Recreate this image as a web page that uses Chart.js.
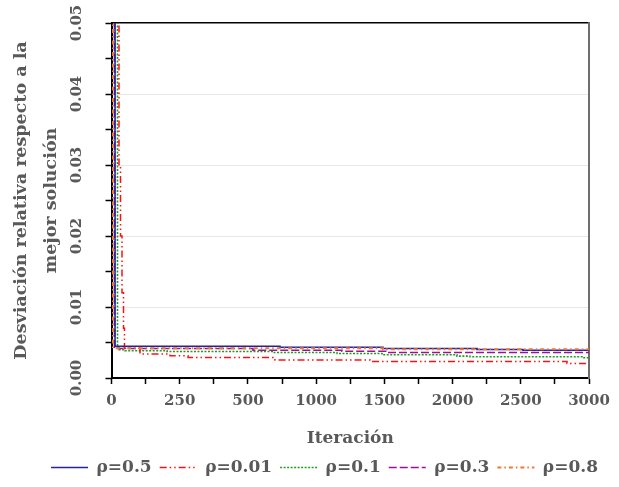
<!DOCTYPE html>
<html><head><meta charset="utf-8">
<script src="https://cdn.jsdelivr.net/npm/chart.js@4.4.1/dist/chart.umd.min.js"></script>
<style>html,body{margin:0;padding:0;background:#fff}#wrap{width:619px;height:487px}</style>
</head><body><div id="wrap"><canvas id="c" width="619" height="487"></canvas></div>
<script>
const seriesNames = ['ρ=0.5', 'ρ=0.01', 'ρ=0.1', 'ρ=0.3', 'ρ=0.8'];
const xTickLabels = ['0', '250', '500', '1000', '1500', '2000', '2500', '3000'];
const yTickLabels = ['0.00', '0.01', '0.02', '0.03', '0.04', '0.05'];

const rho05X = [0, 26, 1235, 1990, 2679, 3016, 3500];
const rho05Y = [0.07, 0.00447, 0.00433, 0.00415, 0.00401, 0.00391, 0.00391];
const rho001X = [0, 55, 66, 77, 88, 95, 209, 429, 561, 1198, 1895, 3339, 3500];
const rho001Y = [0.07, 0.03, 0.02, 0.012, 0.007, 0.00419, 0.00338, 0.00313, 0.00289, 0.00254, 0.00233, 0.00205, 0.00205];
const rho01X = [0, 44, 55, 99, 407, 1184, 1653, 1983, 2532, 2627, 3456, 3500];
const rho01Y = [0.07, 0.00429, 0.00397, 0.00383, 0.00373, 0.00359, 0.00345, 0.00327, 0.00308, 0.00299, 0.00285, 0.00285];
const rho03X = [0, 22, 40, 1037, 1689, 2011, 3500];
const rho03Y = [0.07, 0.00422, 0.00415, 0.00391, 0.00376, 0.00359, 0.00359];
const rho08X = [0, 11, 1990, 3500];
const rho08Y = [0.07, 0.00419, 0.00405, 0.00405];

const pts = (xs, ys) => xs.map((x, i) => ({x: x, y: ys[i]}));
const TXT = '#595959';
const FONT = 'DejaVu Serif';

const styles = [
  {c: '#23239e', d: [], w: 1.6, o: 1},
  {c: '#ff1010', d: [7, 3, 1.5, 3, 1.5, 3], w: 1.5, o: 3},
  {c: '#1e9e1e', d: [2, 1.5], w: 1.6, o: 4},
  {c: '#9a129a', d: [8, 3], w: 1.6, o: 2},
  {c: '#ee7a30', d: [4, 3, 1.5, 3], w: 2, o: 0}
];
const series = [pts(rho05X, rho05Y), pts(rho001X, rho001Y), pts(rho01X, rho01Y), pts(rho03X, rho03Y), pts(rho08X, rho08Y)];

new Chart(document.getElementById('c'), {
  type: 'line',
  data: {
    datasets: series.map((d, i) => ({
      label: seriesNames[i], data: d, borderColor: styles[i].c, backgroundColor: styles[i].c,
      borderDash: styles[i].d, borderWidth: styles[i].w, pointRadius: 0, stepped: true,
      order: styles[i].o, fill: false, pointStyle: 'line'
    }))
  },
  options: {
    responsive: false, animation: false, devicePixelRatio: 1,
    layout: {padding: {top: 23, right: 13, bottom: 1, left: 0}},
    plugins: {
      tooltip: {enabled: false},
      legend: {
        position: 'bottom', align: 'end',
        labels: {
          usePointStyle: true, pointStyle: 'line', pointStyleWidth: 37, boxHeight: 17, padding: 8,
          color: TXT, font: {family: FONT, size: 17, weight: 'bold'},
          sort: (a, b) => a.datasetIndex - b.datasetIndex,
          generateLabels: chart => {
            const items = Chart.defaults.plugins.legend.labels.generateLabels(chart);
            items.forEach(it => {
              const ds = chart.data.datasets[it.datasetIndex];
              it.lineDash = ds.borderDash; it.lineWidth = ds.borderWidth; it.strokeStyle = ds.borderColor;
              it.fontColor = TXT;
            });
            return items;
          }
        }
      }
    },
    scales: {
      x: {
        type: 'linear', position: 'bottom', min: 0, max: 3500,
        afterFit: s => { s.height = 73; },
        ticks: {stepSize: 250, autoSkip: false, maxRotation: 0, padding: 8, color: TXT,
          font: {family: FONT, size: 15, weight: 'bold'},
          callback: (v, i) => (i % 2 === 0 ? xTickLabels[i / 2] : '')},
        grid: {color: 'rgba(0,0,0,0)', tickColor: '#000', tickLength: 6, tickWidth: 1.5},
        border: {color: '#000', width: 2},
        title: {display: true, text: 'Iteración', color: TXT, font: {family: FONT, size: 17, weight: 'bold'}, padding: {top: 0, bottom: 2}}
      },
      y: {
        type: 'linear', position: 'left', min: 0, max: 0.05,
        afterFit: s => { s.width = 111.5; },
        ticks: {stepSize: 0.005, autoSkip: false, minRotation: 90, maxRotation: 90, crossAlign: 'center', padding: 10, color: TXT,
          font: {family: FONT, size: 15, weight: 'bold'},
          callback: (v, i) => (i % 2 === 0 ? yTickLabels[i / 2] : '')},
        grid: {color: c => (c.index % 2 === 0 && c.index > 0 && c.index < 10) ? '#e8e8e8' : 'rgba(0,0,0,0)',
          tickColor: '#000', tickLength: 6, tickWidth: 1.5},
        border: {color: '#000', width: 2},
        title: {display: true, text: ['Desviación relativa respecto a la', 'mejor solución'], color: TXT,
          font: {family: FONT, size: 17.5, weight: 'bold', lineHeight: 1.72}, padding: {top: 6, bottom: 0}}
      },
      xTop: {
        type: 'linear', position: 'top', display: true,
        ticks: {display: false}, grid: {drawOnChartArea: false, drawTicks: false},
        border: {color: '#000', width: 1.5}
      },
      yRight: {
        type: 'linear', position: 'right', display: true,
        afterFit: s => { s.width = 17; },
        ticks: {display: false}, grid: {drawOnChartArea: false, drawTicks: false},
        border: {color: '#6e6e6e', width: 2}
      }
    }
  }
});
</script></body></html>
